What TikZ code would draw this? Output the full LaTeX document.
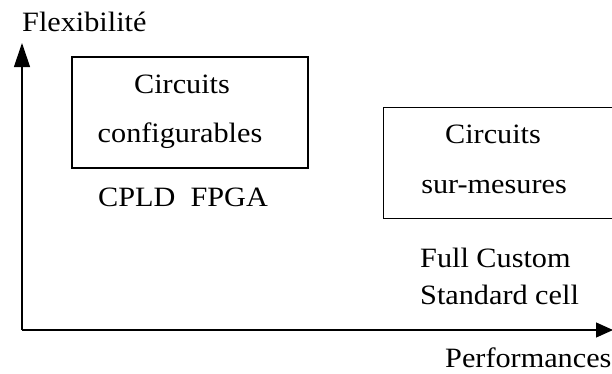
\documentclass[tikz,border=0pt]{standalone}
\usepackage{fontspec}
\setmainfont[FakeStretch=1.08]{Liberation Serif}
\usetikzlibrary{arrows.meta}
\begin{document}
\begin{tikzpicture}[x=1pt,y=-1pt,
  lbl/.style={inner sep=0pt,anchor=base,font=\fontsize{28}{34}\selectfont},
  lblw/.style={inner sep=0pt,anchor=base west,font=\fontsize{28}{34}\selectfont},
  boxnode/.style={draw,line width=1.3pt,inner sep=0pt,rectangle},
  axis/.style={line width=1.2pt}]
\clip (0,0) rectangle (612,373);
\fill[white] (0,0) rectangle (612,373);
% axes
\coordinate (origin) at (22,330);
\coordinate (ytop) at (22,43);
\coordinate (xend) at (613,330);
\draw[axis,-{Triangle[length=24pt,width=16pt]}] (origin) -- (ytop);
\draw[axis,-{Triangle[length=17pt,width=15pt]}] (origin) -- (xend);
% boxes
\node[boxnode,minimum width=236pt,minimum height=111pt] (conf) at (190,112.5) {};
\node[boxnode,minimum width=240pt,minimum height=111pt,anchor=north west] (sur) at (383,107) {};
% texts
\node[lblw] (flex) at (22,31) {Flexibilité};
\node[lbl] (c1) at (182,93) {Circuits};
\node[lbl] (c2) at (180,142) {configurables};
\node[lblw] (cf) at (98,206) {CPLD\ \ FPGA};
\node[lbl] (s1) at (493,143) {Circuits};
\node[lbl] (s2) at (494,193) {sur-mesures};
\node[lblw] (fc) at (420,267) {Full Custom};
\node[lblw] (sc) at (420,304) {Standard cell};
\node[lblw] (perf) at (445,367) {Performances};
\end{tikzpicture}
\end{document}
